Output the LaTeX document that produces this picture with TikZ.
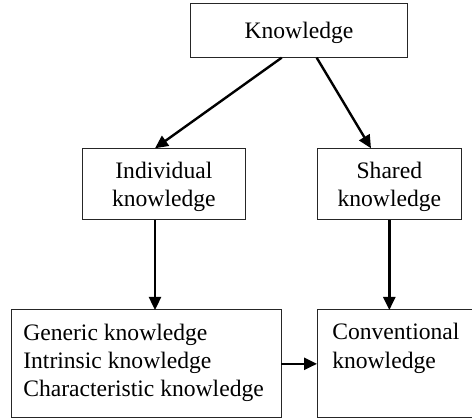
\documentclass[tikz,border=0pt]{standalone}
\usepackage{fontspec}
\setmainfont{Liberation Serif}
\usetikzlibrary{arrows.meta}
\begin{document}
\begin{tikzpicture}[x=1pt,y=-1pt,
  box/.style={draw=black!85,line width=1pt,rectangle,inner sep=0pt,outer sep=0pt},
  lbl/.style={inner sep=0pt,outer sep=0pt,font=\fontsize{23.6}{28.3}\selectfont},
  arr/.style={line width=2.4pt,-{Triangle[length=13pt,width=12pt]}}]
\useasboundingbox (0,0) rectangle (472,419);
\node[box,minimum width=216.6pt,minimum height=53.7pt] (know) at (299,30.85) {};
\node[box,minimum width=162.3pt,minimum height=71.7pt] (ind) at (163.85,184.15) {};
\node[box,minimum width=144.7pt,minimum height=71.7pt] (sh) at (389.35,184.15) {};
\node[box,minimum width=270pt,minimum height=107.7pt] (gen) at (146,363.85) {};
\node[box,minimum width=157pt,minimum height=107.7pt] (conv) at (395.5,363.85) {};
\node[lbl,anchor=base] (tknow) at (299,38.3) {Knowledge};
\node[lbl,anchor=base,align=center] (tind) at (163.85,206.5) {Individual\\knowledge};
\node[lbl,anchor=base,align=center] (tsh) at (389.35,206.5) {Shared\\knowledge};
\node[lbl,anchor=base west,align=left] (tgen) at (23.3,396.7) {Generic knowledge\\Intrinsic knowledge\\Characteristic knowledge};
\node[lbl,anchor=base west,align=left] (tconv) at (332.3,368.3) {Conventional\\knowledge};
\draw[arr] ([xshift=-17.3pt]know.south) -- ([xshift=-8.85pt]ind.north);
\draw[arr] ([xshift=17.7pt]know.south) -- ([xshift=-18.35pt]sh.north);
\draw[arr] ([xshift=-8.85pt]ind.south) -- ([xshift=-8.85pt]ind.south |- gen.north);
\draw[arr] (sh.south) -- (sh.south |- conv.north);
\draw[arr] (gen.east) -- (conv.west);
\end{tikzpicture}
\end{document}
